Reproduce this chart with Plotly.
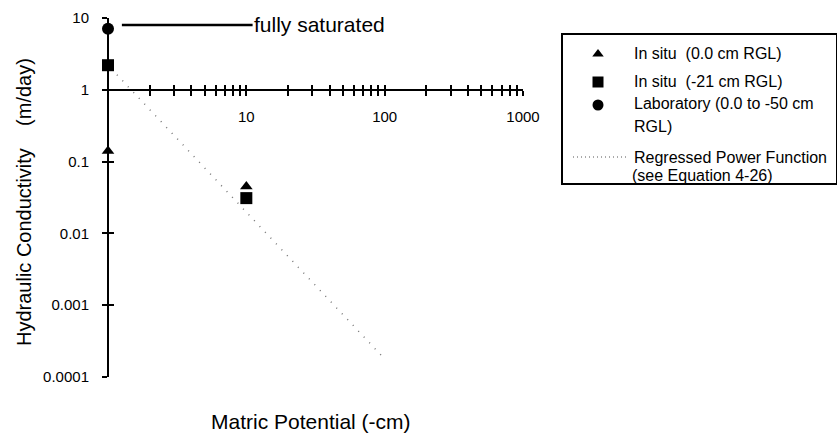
import numpy as np
import plotly.graph_objects as go

W, H = 837, 433

# Hydraulic conductivity (m/day) versus matric potential (-cm)
insitu_0_x = [1, 10]
insitu_0_y = [0.14, 0.045]
insitu_21_x = [1, 10]
insitu_21_y = [2.2, 0.031]
lab_x = [1]
lab_y = [7.1]

# Regressed power function (straight line on log-log axes): end points
power_x = [1.16, 97]
power_y = [1.62, 1.9e-4]

# Fully saturated conductivity reference line
sat_x = [1.26, 11.1]
sat_y = [8.0, 8.0]

x_labelled = [10, 100, 1000]
x_ticks = [m * d for d in (1, 10, 100) for m in range(1, 10)] + [1000]
x_ticktext = [str(v) if v in x_labelled else "" for v in x_ticks]
y_ticks = [1e-4, 1e-3, 1e-2, 0.1, 1, 10]
y_ticktext = ["0.0001", "0.001", "0.01", "0.1", "1", "10"]

legend_text = [
    "In situ  (0.0 cm RGL)",
    "In situ  (-21 cm RGL)",
    "Laboratory (0.0 to -50 cm",
    "RGL)",
    "Regressed Power Function",
    "(see Equation 4-26)",
]

FONT = "Arial, Liberation Sans, sans-serif"

# plot frame in pixels
px_left, px_right = 108, 523
px_top, px_bottom = 18, 377
xd = [px_left / W, px_right / W]
yd = [(H - px_bottom) / H, (H - px_top) / H]
y_range = [-4, 1]
# x axis crosses at K = 1
x_axis_pos = yd[0] + (0 - y_range[0]) / (y_range[1] - y_range[0]) * (yd[1] - yd[0])

# legend box in pixels
lg_left, lg_right, lg_top, lg_bottom = 563, 836, 35, 183
lgx = [lg_left / W, lg_right / W]
lgy = [(H - lg_bottom) / H, (H - lg_top) / H]

fig = go.Figure()

common = dict(mode="markers", marker_color="black", cliponaxis=False, showlegend=False)
fig.add_trace(go.Scatter(x=power_x, y=power_y, mode="lines", showlegend=False,
                         line=dict(color="#777777", width=1.5, dash="1px,7px")))
fig.add_trace(go.Scatter(x=insitu_0_x, y=insitu_0_y, marker_symbol="triangle-up", marker_size=11, **common))
fig.add_trace(go.Scatter(x=insitu_21_x, y=insitu_21_y, marker_symbol="square", marker_size=12, **common))
fig.add_trace(go.Scatter(x=lab_x, y=lab_y, marker_symbol="circle", marker_size=12, **common))
fig.add_trace(go.Scatter(x=sat_x, y=sat_y, mode="lines", showlegend=False, cliponaxis=False,
                         line=dict(color="black", width=2.5)))
# companion axes carrying the inward half of the crossing ticks
fig.add_trace(go.Scatter(x=[1], y=[1], xaxis="x2", yaxis="y2", mode="markers",
                         marker_opacity=0, showlegend=False, hoverinfo="skip"))

# legend swatches (legend panel coordinates: pixels from its top-left corner)
sw_x = 35
fig.add_trace(go.Scatter(x=[sw_x], y=[19], xaxis="x3", yaxis="y3", marker_symbol="triangle-up",
                         marker_size=10, **common))
fig.add_trace(go.Scatter(x=[sw_x], y=[47], xaxis="x3", yaxis="y3", marker_symbol="square",
                         marker_size=11, **common))
fig.add_trace(go.Scatter(x=[sw_x], y=[70], xaxis="x3", yaxis="y3", marker_symbol="circle",
                         marker_size=11, **common))
fig.add_trace(go.Scatter(x=[10, 63], y=[122, 122], xaxis="x3", yaxis="y3", mode="lines",
                         showlegend=False, line=dict(color="#555555", width=1, dash="1px,3px")))

text_y = [19, 47, 69, 92, 122, 140]
text_x = [69, 69, 69, 69, 69, 67]
annotations = []
for t, tx, ty in zip(legend_text, text_x, text_y):
    annotations.append(dict(text=t, x=tx, y=ty, xref="x3", yref="y3", xanchor="left",
                            yanchor="middle", showarrow=False, font=dict(size=16, color="black")))

annotations.append(dict(text="fully saturated", x=np.log10(sat_x[1]), y=np.log10(sat_y[1]),
                        xref="x", yref="y", xanchor="left", yanchor="middle", xshift=-1,
                        showarrow=False, font=dict(size=21, color="black")))
annotations.append(dict(text="Matric Potential (-cm)", x=311 / W, y=1 - 421 / H, xref="paper",
                        yref="paper", xanchor="center", yanchor="middle", showarrow=False,
                        font=dict(size=21, color="black")))
annotations.append(dict(text="Hydraulic Conductivity    (m/day)", x=24 / W, y=1 - 202 / H,
                        xref="paper", yref="paper", xanchor="center", yanchor="middle",
                        textangle=-90, showarrow=False, font=dict(size=20, color="black")))

xbase = dict(type="log", range=[0, 3], domain=xd, anchor="free", position=x_axis_pos,
             tickvals=x_ticks, showgrid=False, zeroline=False, tickcolor="black",
             tickwidth=1.5, ticklen=5)
ybase = dict(type="log", range=y_range, domain=yd, anchor="free", position=xd[0],
             tickvals=y_ticks, showgrid=False, zeroline=False, tickcolor="black",
             tickwidth=1.5, ticklen=5)

fig.update_layout(
    width=W, height=H,
    margin=dict(l=0, r=0, t=0, b=0, autoexpand=False),
    paper_bgcolor="white", plot_bgcolor="rgba(0,0,0,0)",
    font=dict(family=FONT, color="black"),
    xaxis=dict(**xbase, ticks="outside", ticktext=x_ticktext, showline=True,
               linecolor="black", linewidth=2, tickfont=dict(size=15), ticklabelstandoff=8),
    xaxis2=dict(**xbase, overlaying="x", ticks="inside", showticklabels=False, showline=False),
    yaxis=dict(**ybase, ticks="outside", ticktext=y_ticktext, showline=True,
               linecolor="black", linewidth=2, tickfont=dict(size=15), ticklabelstandoff=10),
    yaxis2=dict(**ybase, overlaying="y", ticks="inside", showticklabels=False, showline=False),
    xaxis3=dict(domain=lgx, range=[0, lg_right - lg_left], anchor="y3", showline=True, mirror=True,
                linecolor="black", linewidth=1.5, showticklabels=False, ticks="", showgrid=False,
                zeroline=False, fixedrange=True),
    yaxis3=dict(domain=lgy, range=[lg_bottom - lg_top, 0], anchor="x3", showline=True, mirror=True,
                linecolor="black", linewidth=1.5, showticklabels=False, ticks="", showgrid=False,
                zeroline=False, fixedrange=True),
    annotations=annotations,
)

fig.write_html("out.html")
